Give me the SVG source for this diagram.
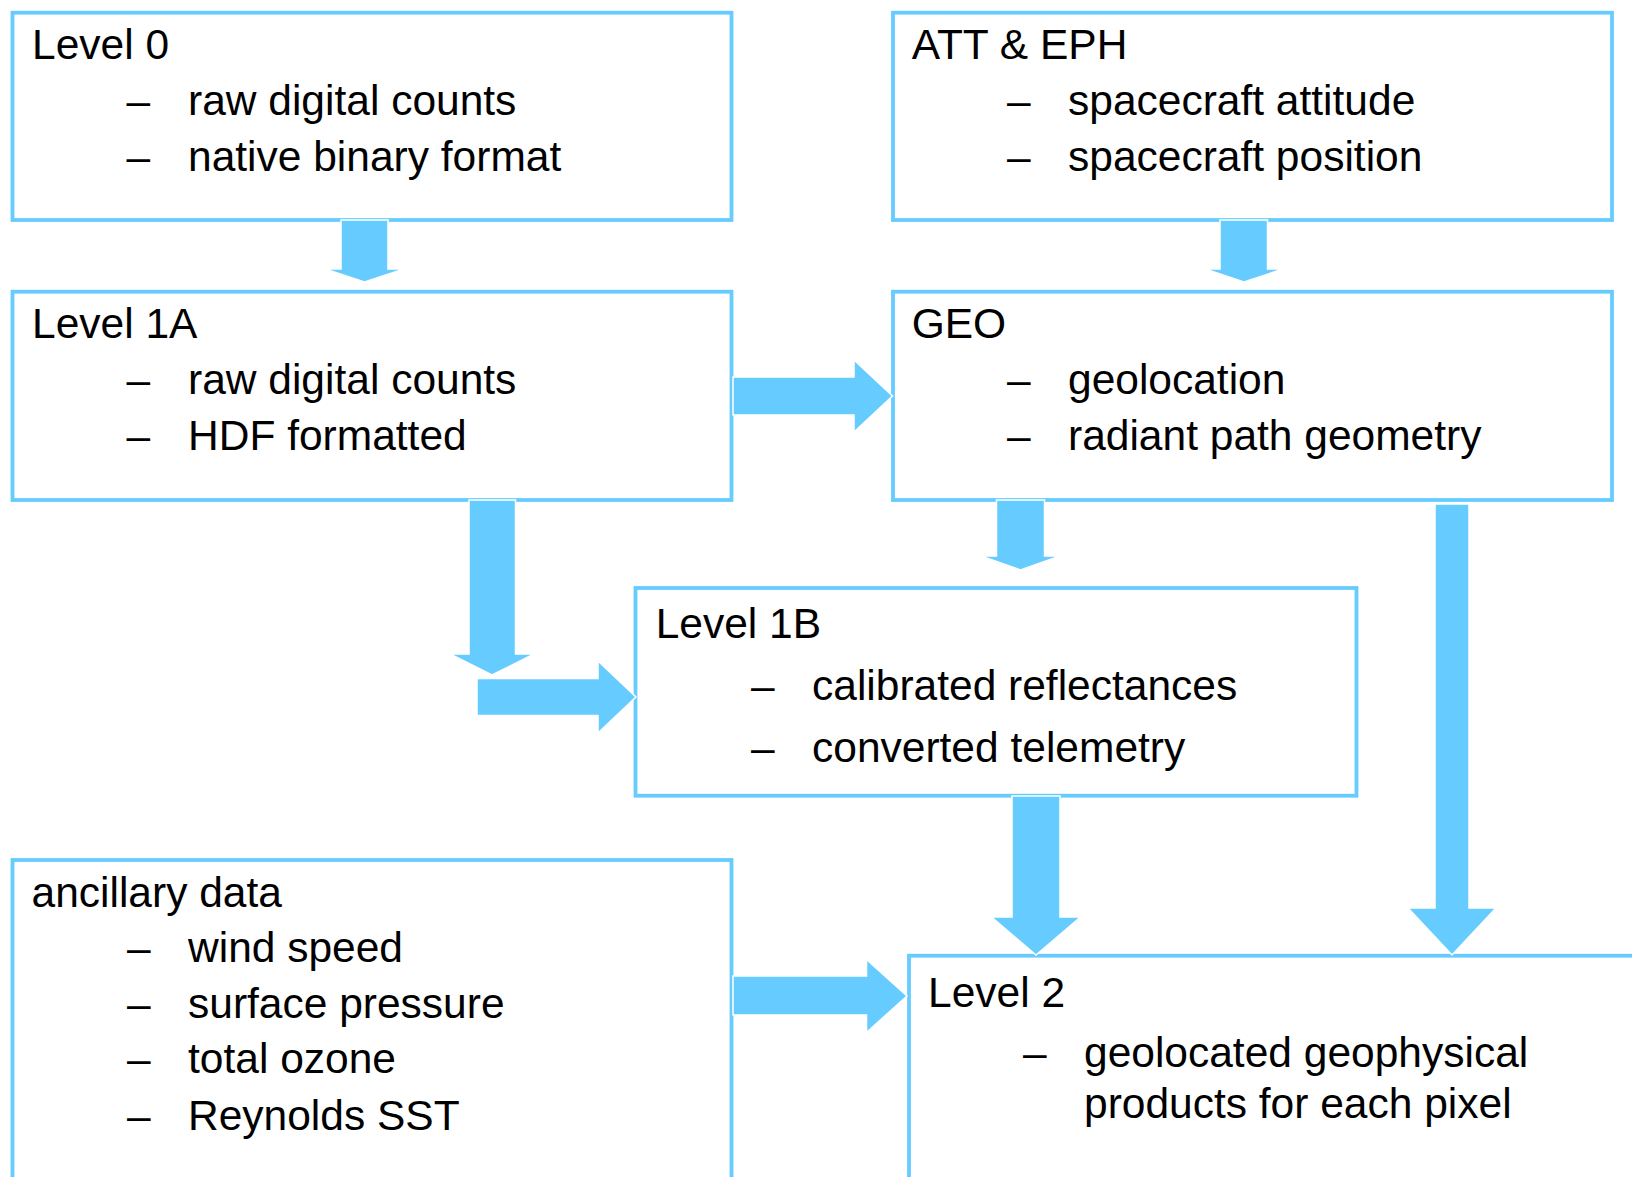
<svg xmlns="http://www.w3.org/2000/svg" width="1632" height="1177" viewBox="0 0 1632 1177">
<style>
.box{fill:#ffffff;stroke:#66CCFF;stroke-width:3.8}
.t{font-family:"Liberation Sans",Arial,sans-serif;font-size:42.5px;fill:#000000}
.arr{fill:#66CCFF;stroke:#ffffff;stroke-width:1.5;stroke-linejoin:miter}
</style>
<rect x="0" y="0" width="1632" height="1177" fill="#ffffff"/>
<g id="level0">
<rect class="box" x="12.5" y="12.7" width="719" height="207.3"/>
<text class="t" x="32" y="59.3">Level 0</text>
<text class="t" x="126.5" y="115">–</text><text class="t" x="188" y="115">raw digital counts</text>
<text class="t" x="126.5" y="170.7">–</text><text class="t" x="188" y="170.7">native binary format</text>
</g>
<g id="atteph">
<rect class="box" x="893" y="12.7" width="719" height="207.3"/>
<text class="t" x="911.7" y="59.3">ATT &amp; EPH</text>
<text class="t" x="1007" y="115">–</text><text class="t" x="1068" y="115">spacecraft attitude</text>
<text class="t" x="1007" y="170.7">–</text><text class="t" x="1068" y="170.7">spacecraft position</text>
</g>
<g id="level1a">
<rect class="box" x="12.5" y="291.7" width="719" height="208.3"/>
<text class="t" x="32" y="338.3">Level 1A</text>
<text class="t" x="126.5" y="394">–</text><text class="t" x="188" y="394">raw digital counts</text>
<text class="t" x="126.5" y="449.7">–</text><text class="t" x="188" y="449.7">HDF formatted</text>
</g>
<g id="geo">
<rect class="box" x="893" y="291.7" width="719" height="208.3"/>
<text class="t" x="911.7" y="338.3">GEO</text>
<text class="t" x="1007" y="394">–</text><text class="t" x="1068" y="394">geolocation</text>
<text class="t" x="1007" y="449.7">–</text><text class="t" x="1068" y="449.7">radiant path geometry</text>
</g>
<g id="level1b">
<rect class="box" x="635.5" y="588" width="721" height="207.7"/>
<text class="t" x="655.7" y="638.3">Level 1B</text>
<text class="t" x="751" y="700">–</text><text class="t" x="812" y="700">calibrated reflectances</text>
<text class="t" x="751" y="761.7">–</text><text class="t" x="812" y="761.7">converted telemetry</text>
</g>
<g id="ancillary">
<rect class="box" x="12.5" y="860" width="719" height="400"/>
<text class="t" x="31.5" y="906.7">ancillary data</text>
<text class="t" x="127" y="961.7">–</text><text class="t" x="188" y="961.7">wind speed</text>
<text class="t" x="127" y="1018.3">–</text><text class="t" x="188" y="1018.3">surface pressure</text>
<text class="t" x="127" y="1073">–</text><text class="t" x="188" y="1073">total ozone</text>
<text class="t" x="127" y="1130">–</text><text class="t" x="188" y="1130">Reynolds SST</text>
</g>
<g id="level2">
<rect class="box" x="909" y="955.7" width="800" height="400"/>
<text class="t" x="928" y="1007.3">Level 2</text>
<text class="t" x="1023" y="1066.7">–</text><text class="t" x="1084" y="1066.7">geolocated geophysical</text>
<text class="t" x="1084" y="1118.3">products for each pixel</text>
</g>
<g id="connectors">
<polygon class="arr" points="341,220 388,220 388,269 404,269 364.5,282 325,269 341,269"/>
<polygon class="arr" points="1220,220 1267.5,220 1267.5,269 1283,269 1244,282 1205,269 1220,269"/>
<polygon class="arr" points="733,377 854,377 854,360 892.5,396 854,432 854,415 733,415"/>
<polygon class="arr" points="469,500 515.5,500 515.5,654 534,654 492,675 450,654 469,654"/>
<polygon class="arr" points="477,678.5 598,678.5 598,661 636,697 598,733 598,715.5 477,715.5"/>
<polygon class="arr" points="996.5,500 1044.5,500 1044.5,556 1060,556 1020.5,570 981,556 996.5,556"/>
<polygon class="arr" points="1012,796 1060,796 1060,917 1080.5,917 1036,955 991.5,917 1012,917"/>
<polygon class="arr" points="1435,504 1469,504 1469,908 1496,908 1452,955 1408,908 1435,908"/>
<polygon class="arr" points="733,976 866.5,976 866.5,959.5 907,996 866.5,1032.5 866.5,1015 733,1015"/>
</g>
</svg>
